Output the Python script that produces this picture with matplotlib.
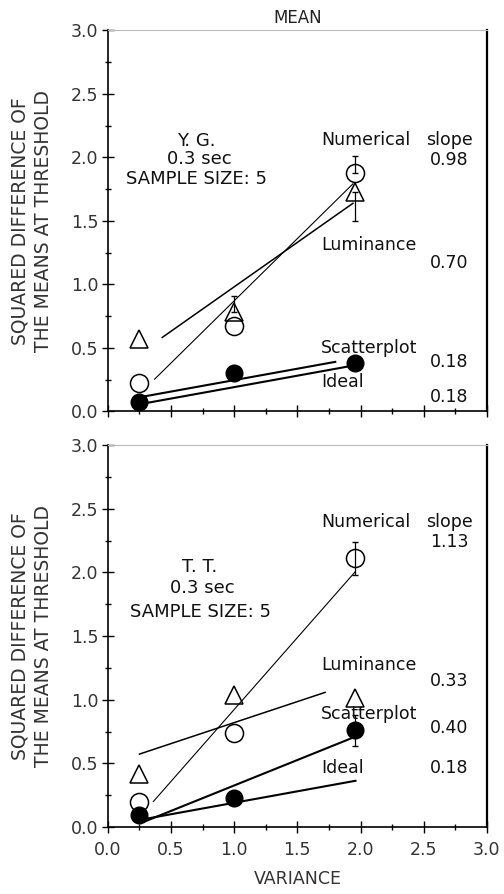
import matplotlib
matplotlib.use("Agg")
import matplotlib.pyplot as plt
from matplotlib.ticker import MultipleLocator

# --- data ---
variance = [0.25, 1.0, 1.96]

# top panel: Y. G.
yg_numerical = [0.22, 0.67, 1.88]
yg_luminance = [0.57, 0.78, 1.73]
yg_scatter = [0.07, 0.30, 0.38]
yg_num_err_lo = [0.0, 0.0, 0.0]
yg_num_err_hi = [0.0, 0.0, 0.13]
yg_lum_err_lo = [0.0, 0.0, 0.23]
yg_lum_err_hi = [0.0, 0.13, 0.0]

# bottom panel: T. T.
tt_numerical = [0.20, 0.74, 2.11]
tt_luminance = [0.42, 1.04, 1.01]
tt_scatter = [0.09, 0.23, 0.76]
tt_num_err = [0.0, 0.0, 0.13]
tt_sca_err = [0.0, 0.0, 0.12]

# fitted lines: (name, slope, intercept, x_start, x_end)
yg_fits = [("Numerical", 0.98, -0.11, 0.37, 1.94),
           ("Luminance", 0.70, 0.28, 0.43, 1.94),
           ("Scatterplot", 0.18, 0.065, 0.25, 1.80),
           ("Ideal", 0.18, 0.01, 0.25, 1.96)]
tt_fits = [("Numerical", 1.13, -0.207, 0.36, 1.96),
           ("Luminance", 0.33, 0.49, 0.25, 1.72),
           ("Scatterplot", 0.40, -0.074, 0.30, 1.96),
           ("Ideal", 0.18, 0.01, 0.30, 1.96)]

# text labels: (text, y) ; slope values: (text, y)
yg_names = [("Numerical", 2.14), ("Luminance", 1.31), ("Scatterplot", 0.50), ("Ideal", 0.23)]
yg_slopes = [("0.98", 1.98), ("0.70", 1.17), ("0.18", 0.39), ("0.18", 0.11)]
tt_names = [("Numerical", 2.40), ("Luminance", 1.27), ("Scatterplot", 0.89), ("Ideal", 0.46)]
tt_slopes = [("1.13", 2.24), ("0.33", 1.15), ("0.40", 0.78), ("0.18", 0.46)]

TXT = "#111111"
LW = {"Numerical": 0.8, "Luminance": 1.1, "Scatterplot": 1.5, "Ideal": 1.5}

plt.rcParams["font.family"] = ["DejaVu Sans"]

fig = plt.figure(figsize=(5.04, 8.94), dpi=100)
ax_top = fig.add_axes([0.214, 0.540, 0.752, 0.426])
ax_bot = fig.add_axes([0.214, 0.075, 0.752, 0.427])


def style_axes(ax, show_xlabels):
    ax.set_xlim(0, 3)
    ax.set_ylim(0, 3)
    ax.xaxis.set_major_locator(MultipleLocator(0.5))
    ax.xaxis.set_minor_locator(MultipleLocator(0.25))
    ax.yaxis.set_major_locator(MultipleLocator(0.5))
    ax.yaxis.set_minor_locator(MultipleLocator(0.25))
    ax.yaxis.set_major_formatter(plt.FormatStrFormatter("%.1f"))
    ax.xaxis.set_major_formatter(plt.FormatStrFormatter("%.1f"))
    ax.tick_params(which="major", direction="inout", length=8, width=1.0,
                   labelsize=12.5, labelcolor="#333333", pad=3)
    ax.tick_params(which="minor", direction="inout", length=5, width=1.0)
    ax.tick_params(axis="x", labelbottom=show_xlabels, pad=6)
    for side in ("left", "bottom"):
        ax.spines[side].set_linewidth(1.2)
    ax.spines["right"].set_linewidth(1.6)
    ax.spines["top"].set_color("#bbbbbb")
    ax.spines["top"].set_linewidth(0.8)
    ax.set_ylabel("SQUARED DIFFERENCE OF\nTHE MEANS AT THRESHOLD",
                  fontsize=13.5, color="#333333", linespacing=1.3)
    ax.yaxis.set_label_coords(-0.145, 0.5)


def draw_fits(ax, fits):
    for name, slope, icpt, x0, x1 in fits:
        xs = [x0, x1]
        ax.plot(xs, [icpt + slope * x for x in xs], color="black", lw=LW[name], zorder=2)


def draw_errors(ax, y, lo, hi):
    # only the points that carry a visible error bar
    idx = [i for i in range(len(y)) if lo[i] > 0 or hi[i] > 0]
    ax.errorbar([variance[i] for i in idx], [y[i] for i in idx],
                yerr=[[lo[i] for i in idx], [hi[i] for i in idx]], fmt="none",
                ecolor="black", elinewidth=0.9, capsize=2.5, capthick=1.0, zorder=3)


def draw_labels(ax, names, slopes, header_y):
    for text, y in names:
        ax.text(1.69, y, text, fontsize=12.5, color=TXT, ha="left", va="center")
    ax.text(2.52, header_y, "slope", fontsize=12.5, color=TXT, ha="left", va="center")
    for text, y in slopes:
        ax.text(2.55, y, text, fontsize=12.5, color=TXT, ha="left", va="center")


# ---- top panel ----
style_axes(ax_top, False)
draw_fits(ax_top, yg_fits)
draw_errors(ax_top, yg_numerical, yg_num_err_lo, yg_num_err_hi)
draw_errors(ax_top, yg_luminance, yg_lum_err_lo, yg_lum_err_hi)
ax_top.plot(variance, yg_numerical, "o", mfc="none", mec="black", ms=13, mew=1.1, zorder=3)
ax_top.plot(variance, yg_luminance, "^", mfc="none", mec="black", ms=13, mew=1.1, zorder=3)
ax_top.plot(variance, yg_scatter, "o", color="black", ms=12, zorder=4)
ax_top.text(0.70, 2.13, "Y. G.", fontsize=13, color=TXT, ha="center", va="center")
ax_top.text(0.72, 1.99, "0.3 sec", fontsize=13, color=TXT, ha="center", va="center")
ax_top.text(0.70, 1.83, "SAMPLE SIZE: 5", fontsize=13, color=TXT, ha="center", va="center")
draw_labels(ax_top, yg_names, yg_slopes, 2.14)
ax_top.set_title("MEAN", fontsize=12, color="#222222", pad=5)

# ---- bottom panel ----
style_axes(ax_bot, True)
draw_fits(ax_bot, tt_fits)
draw_errors(ax_bot, tt_numerical, tt_num_err, tt_num_err)
draw_errors(ax_bot, tt_scatter, tt_sca_err, tt_sca_err)
ax_bot.plot(variance, tt_numerical, "o", mfc="none", mec="black", ms=13, mew=1.1, zorder=3)
ax_bot.plot(variance, tt_luminance, "^", mfc="none", mec="black", ms=13, mew=1.1, zorder=3)
ax_bot.plot(variance, tt_scatter, "o", color="black", ms=12, zorder=4)
ax_bot.text(0.73, 2.04, "T. T.", fontsize=13, color=TXT, ha="center", va="center")
ax_bot.text(0.75, 1.88, "0.3 sec", fontsize=13, color=TXT, ha="center", va="center")
ax_bot.text(0.73, 1.69, "SAMPLE SIZE: 5", fontsize=13, color=TXT, ha="center", va="center")
draw_labels(ax_bot, tt_names, tt_slopes, 2.40)
ax_bot.set_xlabel("VARIANCE", fontsize=12.5, color="#333333", labelpad=8)

fig.savefig("out.png", dpi=100)
